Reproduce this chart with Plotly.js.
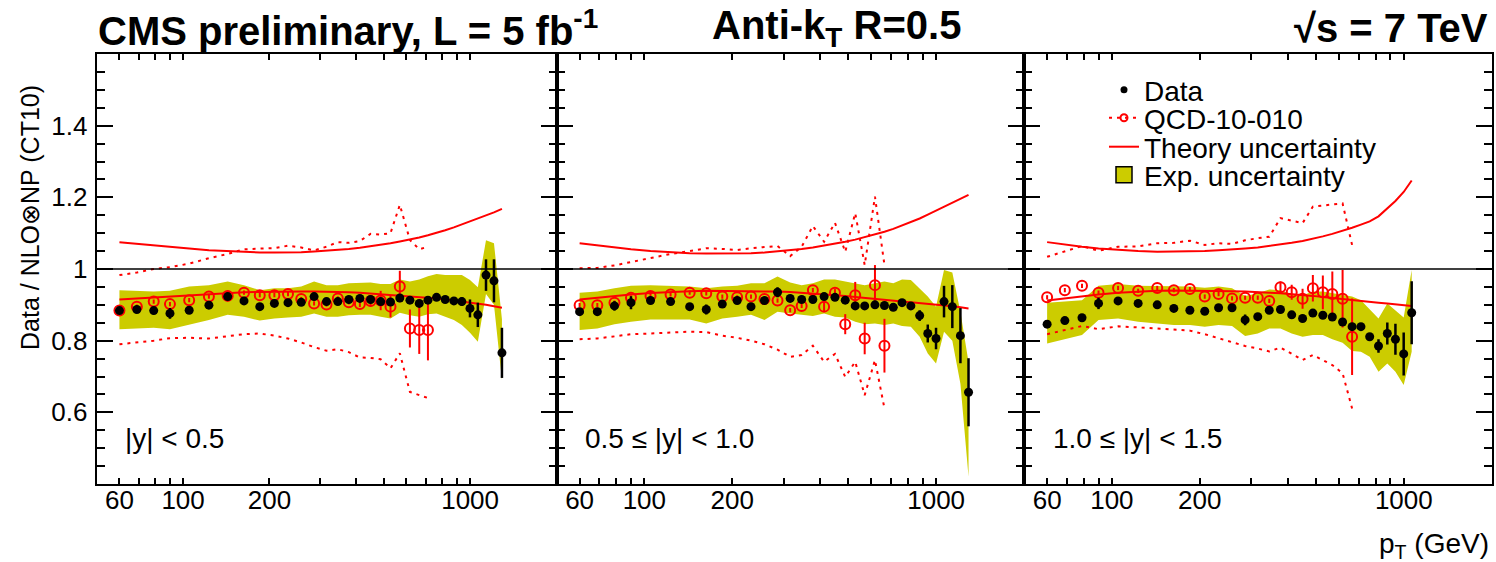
<!DOCTYPE html>
<html><head><meta charset="utf-8">
<script src="https://cdn.plot.ly/plotly-3.0.1.min.js"></script>
<style>html,body{margin:0;padding:0;background:#fff}</style>
</head><body><div id="chart" style="width:1496px;height:562px"></div>
<script>
// ---------- data ----------
const ptBins = [60,69,79,90,105,123,143,163,185,208,232,258,286,316,346,378,413,450,488,528,569,617,665,713,764,819,878,936,999,1064,1136,1211,1291];

// |y| < 0.5
const data1    = [0.884,0.887,0.884,0.876,0.885,0.899,0.923,0.911,0.895,0.904,0.906,0.907,0.923,0.909,0.909,0.915,0.918,0.915,0.909,0.908,0.919,0.913,0.904,0.913,0.921,0.915,0.911,0.909,0.890,0.872,0.983,0.967,0.766];
const data1Err = [0.006,0.006,0.010,0.015,0.006,0.006,0.010,0.010,0.006,0.006,0.006,0.006,0.010,0.006,0.006,0.006,0.006,0.008,0.008,0.010,0.008,0.008,0.008,0.008,0.006,0.006,0.010,0.012,0.025,0.034,0.044,0.060,0.070];
const qcd1     = [0.884,0.895,0.909,0.902,0.913,0.923,0.925,0.934,0.927,0.927,0.930,0.916,0.904,0.901,0.918,0.907,0.902,0.911,0.912,0.895,0.951,0.834,0.830,0.830];
const qcd1Err  = [0.006,0.006,0.006,0.006,0.006,0.006,0.006,0.006,0.006,0.006,0.006,0.006,0.006,0.006,0.006,0.006,0.008,0.016,0.027,0.030,0.044,0.053,0.067,0.085];
const qcd1Up   = [0.983,0.990,1.000,1.005,1.015,1.030,1.042,1.055,1.057,1.058,1.065,1.060,1.052,1.062,1.075,1.073,1.078,1.098,1.096,1.100,1.179,1.081,1.055,1.062];
const qcd1Dn   = [0.790,0.795,0.800,0.807,0.808,0.806,0.812,0.818,0.820,0.814,0.806,0.795,0.782,0.772,0.776,0.768,0.753,0.752,0.748,0.723,0.765,0.657,0.648,0.640];
const theo1Up  = [1.075,1.070,1.066,1.062,1.057,1.052,1.049,1.047,1.046,1.046,1.046,1.047,1.049,1.051,1.053,1.056,1.059,1.063,1.067,1.072,1.077,1.082,1.088,1.094,1.100,1.108,1.116,1.124,1.132,1.140,1.149,1.158,1.168];
const theo1Dn  = [0.915,0.918,0.921,0.924,0.927,0.930,0.933,0.935,0.936,0.937,0.937,0.937,0.937,0.937,0.936,0.935,0.934,0.932,0.930,0.928,0.926,0.924,0.922,0.920,0.918,0.915,0.912,0.910,0.907,0.904,0.900,0.896,0.892];
const exp1Up   = [0.941,0.939,0.937,0.939,0.951,0.955,0.965,0.955,0.941,0.946,0.946,0.951,0.965,0.955,0.955,0.960,0.962,0.962,0.958,0.958,0.971,0.965,0.971,0.980,0.986,0.983,0.983,0.983,0.969,0.949,1.080,1.072,0.860];
const exp1Dn   = [0.832,0.833,0.836,0.832,0.844,0.858,0.872,0.867,0.856,0.862,0.865,0.867,0.876,0.867,0.867,0.871,0.872,0.872,0.867,0.862,0.878,0.871,0.867,0.874,0.876,0.867,0.858,0.844,0.822,0.797,0.930,0.900,0.690];

// 0.5 <= |y| < 1.0
const data2    = [0.881,0.881,0.897,0.906,0.912,0.909,0.895,0.887,0.902,0.912,0.895,0.912,0.935,0.918,0.915,0.915,0.923,0.921,0.913,0.897,0.897,0.900,0.898,0.893,0.906,0.897,0.870,0.820,0.806,0.909,0.895,0.814,0.656];
const data2Err = [0.006,0.006,0.013,0.018,0.006,0.006,0.010,0.014,0.006,0.006,0.006,0.006,0.014,0.006,0.006,0.006,0.008,0.008,0.006,0.006,0.006,0.006,0.006,0.006,0.006,0.010,0.015,0.025,0.030,0.044,0.060,0.077,0.095];
const qcd2     = [0.899,0.899,0.906,0.920,0.925,0.929,0.934,0.932,0.923,0.921,0.923,0.916,0.912,0.885,0.897,0.941,0.895,0.934,0.846,0.927,0.806,0.955,0.786];
const qcd2Err  = [0.006,0.006,0.006,0.006,0.006,0.006,0.006,0.006,0.006,0.006,0.006,0.006,0.006,0.006,0.006,0.006,0.013,0.010,0.028,0.037,0.044,0.056,0.075];
const qcd2Up   = [1.002,1.003,1.010,1.020,1.030,1.042,1.050,1.058,1.056,1.053,1.058,1.062,1.064,1.036,1.062,1.120,1.076,1.129,1.048,1.156,1.011,1.202,1.011];
const qcd2Dn   = [0.804,0.806,0.812,0.818,0.820,0.822,0.825,0.824,0.814,0.808,0.800,0.790,0.775,0.755,0.760,0.786,0.741,0.763,0.699,0.741,0.648,0.746,0.611];
const theo2Up  = [1.072,1.066,1.060,1.055,1.050,1.046,1.044,1.043,1.043,1.043,1.044,1.046,1.049,1.052,1.056,1.060,1.065,1.070,1.076,1.082,1.089,1.096,1.104,1.112,1.121,1.131,1.141,1.152,1.163,1.174,1.185,1.196,1.207];
const theo2Dn  = [0.915,0.920,0.925,0.929,0.933,0.936,0.938,0.939,0.939,0.939,0.939,0.938,0.937,0.936,0.934,0.932,0.930,0.928,0.925,0.922,0.919,0.916,0.914,0.911,0.909,0.907,0.905,0.902,0.900,0.898,0.896,0.893,0.890];
const exp2Up   = [0.934,0.937,0.946,0.953,0.955,0.953,0.951,0.946,0.951,0.953,0.960,0.960,0.979,0.962,0.955,0.960,0.971,0.971,0.965,0.960,0.955,0.960,0.965,0.960,0.971,0.969,0.946,0.923,0.895,0.997,0.990,0.880,0.740];
const exp2Dn   = [0.830,0.834,0.846,0.853,0.859,0.858,0.859,0.848,0.862,0.867,0.872,0.858,0.881,0.876,0.872,0.869,0.876,0.867,0.865,0.853,0.846,0.848,0.844,0.848,0.841,0.839,0.811,0.764,0.736,0.825,0.800,0.680,0.420];

// 1.0 <= |y| < 1.5
const data3    = [0.846,0.856,0.864,0.904,0.911,0.904,0.900,0.890,0.885,0.882,0.892,0.892,0.858,0.867,0.885,0.887,0.872,0.862,0.877,0.871,0.866,0.852,0.839,0.839,0.811,0.785,0.820,0.804,0.763,0.878];
const data3Err = [0.006,0.006,0.010,0.016,0.006,0.006,0.008,0.010,0.006,0.006,0.006,0.006,0.015,0.006,0.006,0.006,0.006,0.006,0.006,0.006,0.008,0.006,0.006,0.006,0.010,0.019,0.031,0.043,0.060,0.088];
const qcd3     = [0.921,0.941,0.953,0.934,0.947,0.939,0.947,0.941,0.944,0.923,0.930,0.918,0.920,0.920,0.911,0.949,0.935,0.917,0.946,0.935,0.930,0.917,0.811];
const qcd3Err  = [0.006,0.006,0.006,0.006,0.006,0.006,0.006,0.006,0.006,0.006,0.006,0.006,0.006,0.006,0.006,0.016,0.021,0.028,0.037,0.047,0.063,0.080,0.107];
const qcd3Up   = [1.034,1.050,1.064,1.051,1.062,1.063,1.072,1.073,1.079,1.067,1.072,1.070,1.080,1.086,1.090,1.142,1.135,1.128,1.174,1.178,1.180,1.183,1.067];
const qcd3Dn   = [0.818,0.829,0.841,0.832,0.840,0.837,0.834,0.832,0.828,0.818,0.806,0.796,0.785,0.778,0.770,0.781,0.763,0.746,0.760,0.745,0.732,0.709,0.611];
const theo3Up  = [1.075,1.068,1.062,1.057,1.053,1.050,1.048,1.048,1.048,1.050,1.052,1.054,1.057,1.060,1.064,1.068,1.073,1.078,1.084,1.091,1.098,1.106,1.115,1.124,1.133,1.147,1.170,1.190,1.215,1.247];
const theo3Dn  = [0.912,0.918,0.924,0.929,0.934,0.937,0.939,0.940,0.940,0.940,0.939,0.938,0.937,0.936,0.934,0.932,0.930,0.928,0.925,0.922,0.919,0.916,0.914,0.911,0.908,0.906,0.904,0.901,0.899,0.897];
const exp3Up   = [0.906,0.909,0.913,0.953,0.958,0.953,0.953,0.951,0.951,0.948,0.951,0.946,0.925,0.932,0.943,0.941,0.930,0.927,0.937,0.937,0.932,0.927,0.923,0.913,0.887,0.862,0.904,0.885,0.865,0.997];
const exp3Dn   = [0.792,0.804,0.816,0.858,0.862,0.853,0.848,0.844,0.844,0.839,0.844,0.841,0.813,0.820,0.834,0.834,0.820,0.811,0.816,0.816,0.804,0.794,0.771,0.769,0.755,0.713,0.736,0.713,0.676,0.769];

const panelLabels = ['|y| < 0.5', '0.5 \u2264 |y| < 1.0', '1.0 \u2264 |y| < 1.5'];
const xTickVals = [60, 100, 200, 1000];
const xTickText = ['60', '100', '200', '1000'];
const xMajorVals = [100, 1000];
const xMinorVals = [70, 80, 90, 300, 400, 500, 600, 700, 800, 900, 2000];
const yTickVals = [0.6, 0.8, 1, 1.2, 1.4];
const yTickText = ['0.6', '0.8', '1', '1.2', '1.4'];
const xRange = [50, 2000];
const yRange = [0.4, 1.6];
const unity = 1;
const legendNames = ['Data', 'QCD-10-010', 'Theory uncertainty', 'Exp. uncertainty'];

// ---------- styles ----------
const FONT = 'Liberation Sans, Arial, Helvetica, sans-serif';
const RED = '#ff0000';
const BAND = '#cccc00';
const DOT = '3px,5px';

const panels = [
  {d: data1, de: data1Err, q: qcd1, qe: qcd1Err, qu: qcd1Up, qd: qcd1Dn, tu: theo1Up, td: theo1Dn, eu: exp1Up, ed: exp1Dn},
  {d: data2, de: data2Err, q: qcd2, qe: qcd2Err, qu: qcd2Up, qd: qcd2Dn, tu: theo2Up, td: theo2Dn, eu: exp2Up, ed: exp2Dn},
  {d: data3, de: data3Err, q: qcd3, qe: qcd3Err, qu: qcd3Up, qd: qcd3Dn, tu: theo3Up, td: theo3Dn, eu: exp3Up, ed: exp3Dn}
];

const traces = [];
panels.forEach((p, i) => {
  const xa = i === 0 ? 'x' : 'x' + (i + 1);
  const ya = i === 0 ? 'y' : 'y' + (i + 1);
  const xd = ptBins.slice(0, p.d.length);
  const xq = ptBins.slice(0, p.q.length);
  const base = {xaxis: xa, yaxis: ya, hoverinfo: 'skip', showlegend: false, type: 'scatter'};
  traces.push(Object.assign({}, base, {x: xd, y: p.ed, mode: 'lines', line: {width: 0, color: BAND}}));
  traces.push(Object.assign({}, base, {x: xd, y: p.eu, mode: 'lines', line: {width: 0, color: BAND}, fill: 'tonexty', fillcolor: BAND}));
  traces.push(Object.assign({}, base, {x: xd, y: p.tu, mode: 'lines', line: {width: 2, color: RED}}));
  traces.push(Object.assign({}, base, {x: xd, y: p.td, mode: 'lines', line: {width: 2, color: RED}}));
  traces.push(Object.assign({}, base, {x: xq, y: p.qu, mode: 'lines', line: {width: 2, color: RED, dash: DOT}}));
  traces.push(Object.assign({}, base, {x: xq, y: p.qd, mode: 'lines', line: {width: 2, color: RED, dash: DOT}}));
  traces.push(Object.assign({}, base, {x: xq, y: p.q, mode: 'markers',
    marker: {symbol: 'circle-open', size: 10, color: RED, line: {width: 2, color: RED}},
    error_y: {type: 'data', array: p.qe, visible: true, color: RED, thickness: 2, width: 0}}));
  traces.push(Object.assign({}, base, {x: xd, y: p.d, mode: 'markers',
    marker: {symbol: 'circle', size: 9, color: '#000'},
    error_y: {type: 'data', array: p.de, visible: true, color: '#000', thickness: 2.5, width: 0}}));
});

// legend-only entries, one small legend per entry so the row spacing matches
const lg = {xaxis: 'x3', yaxis: 'y3', x: [null], y: [null], type: 'scatter', hoverinfo: 'skip', showlegend: true};
traces.push(Object.assign({}, lg, {name: legendNames[0], legend: 'legend', mode: 'markers', marker: {symbol: 'circle', size: 7, color: '#000'}}));
traces.push(Object.assign({}, lg, {name: legendNames[1], legend: 'legend2', mode: 'lines+markers', line: {color: RED, width: 2, dash: DOT}, marker: {symbol: 'circle-open', size: 7, color: RED, line: {width: 2, color: RED}}}));
traces.push(Object.assign({}, lg, {name: legendNames[2], legend: 'legend3', mode: 'lines', line: {color: RED, width: 2}}));
traces.push(Object.assign({}, lg, {name: legendNames[3], legend: 'legend4', mode: 'markers', marker: {symbol: 'square', size: 20, color: BAND, line: {color: '#000', width: 1.5}}}));

// ---------- layout ----------
const W = 1496, H = 562;
const xDomains = [[96.7 / W, 556.5 / W], [556.5 / W, 1024 / W], [1024 / W, 1491.7 / W]];
const yDomain = [1 - 484 / H, 1 - 54 / H];
const logR = [Math.log10(xRange[0]), Math.log10(xRange[1])];
const legendRows = [90, 118, 147, 175];

const layout = {
  width: W, height: H,
  margin: {l: 0, r: 0, t: 0, b: 0},
  paper_bgcolor: '#fff', plot_bgcolor: 'rgba(0,0,0,0)',
  font: {family: FONT, color: '#000', size: 26},
  showlegend: true,
  shapes: [], annotations: []
};
['legend', 'legend2', 'legend3', 'legend4'].forEach((k, i) => {
  layout[k] = {x: 1104 / W, y: 1 - legendRows[i] / H, xanchor: 'left', yanchor: 'middle',
               bgcolor: 'rgba(0,0,0,0)', borderwidth: 0, itemclick: false, traceorder: 'normal',
               font: {family: FONT, size: 28, color: '#000'}};
});

for (let i = 0; i < 3; i++) {
  const s = i === 0 ? '' : String(i + 1);
  layout['xaxis' + s] = {
    type: 'log', range: logR, domain: xDomains[i], anchor: 'y' + s,
    tickmode: 'array', tickvals: xTickVals, ticktext: xTickText,
    ticks: 'inside', ticklen: 6, tickwidth: 2, tickcolor: '#000',
    showline: true, linewidth: 2, linecolor: '#000', mirror: 'ticks',
    showgrid: false, zeroline: false, fixedrange: true,
    tickfont: {family: FONT, size: 26, color: '#000'}, ticklabelstandoff: -8,
    minor: {tickmode: 'array', tickvals: xMinorVals, ticks: 'inside', ticklen: 6, tickwidth: 2, tickcolor: '#000', showgrid: false}
  };
  layout['xaxis' + (i + 4)] = {
    type: 'log', range: logR, overlaying: 'x' + s, anchor: 'y' + s,
    tickmode: 'array', tickvals: xMajorVals, showticklabels: false,
    ticks: 'inside', ticklen: 11, tickwidth: 2, tickcolor: '#000',
    showline: false, mirror: 'ticks', showgrid: false, zeroline: false, fixedrange: true
  };
  layout['yaxis' + s] = {
    range: yRange, domain: yDomain, anchor: 'x' + s,
    tickmode: 'array', tickvals: yTickVals, ticktext: yTickText, showticklabels: i === 0,
    ticks: 'inside', ticklen: 16, tickwidth: 2, tickcolor: '#000',
    showline: true, linewidth: 2, linecolor: '#000', mirror: 'ticks',
    showgrid: false, zeroline: false, fixedrange: true,
    tickfont: {family: FONT, size: 26, color: '#000'}, ticklabelstandoff: 2,
    minor: {tickmode: 'linear', tick0: yRange[0], dtick: 0.05, ticks: 'inside', ticklen: 8, tickwidth: 2, tickcolor: '#000', showgrid: false}
  };
  layout.shapes.push({type: 'line', xref: 'x' + s + ' domain', yref: 'y' + s, x0: 0, x1: 1, y0: unity, y1: unity,
                      line: {color: '#000', width: 1.5}, layer: 'above'});
  layout.annotations.push({xref: 'x' + s + ' domain', yref: 'paper', x: 0.057, y: 1 - 438 / H,
                           xanchor: 'left', yanchor: 'middle', showarrow: false, text: panelLabels[i],
                           font: {family: FONT, size: 28, color: '#000'}});
}

layout.annotations.push(
  {xref: 'paper', yref: 'paper', x: 96 / W, y: 1 - 28 / H, xanchor: 'left', yanchor: 'middle', showarrow: false,
   text: '<b>CMS preliminary, L = 5 fb<sup>-1</sup></b>', font: {family: FONT, size: 40, color: '#000'}},
  {xref: 'paper', yref: 'paper', x: 836 / W, y: 1 - 28 / H, xanchor: 'center', yanchor: 'middle', showarrow: false,
   text: '<b>Anti-k<sub>T</sub> R=0.5</b>', font: {family: FONT, size: 40, color: '#000'}},
  {xref: 'paper', yref: 'paper', x: 1490 / W, y: 1 - 28 / H, xanchor: 'right', yanchor: 'middle', showarrow: false,
   text: '<b>\u221As = 7 TeV</b>', font: {family: FONT, size: 40, color: '#000'}},
  {xref: 'paper', yref: 'paper', x: 30 / W, y: 1 - 218 / H, xanchor: 'center', yanchor: 'middle', showarrow: false,
   textangle: -90, text: 'Data / NLO\u2297NP (CT10)', font: {family: FONT, size: 25, color: '#000'}},
  {xref: 'paper', yref: 'paper', x: 1491 / W, y: 1 - 545 / H, xanchor: 'right', yanchor: 'middle', showarrow: false,
   text: 'p<sub>T</sub> (GeV)', font: {family: FONT, size: 28, color: '#000'}}
);

Plotly.newPlot('chart', traces, layout, {staticPlot: true, displayModeBar: false});
</script>
</body></html>
